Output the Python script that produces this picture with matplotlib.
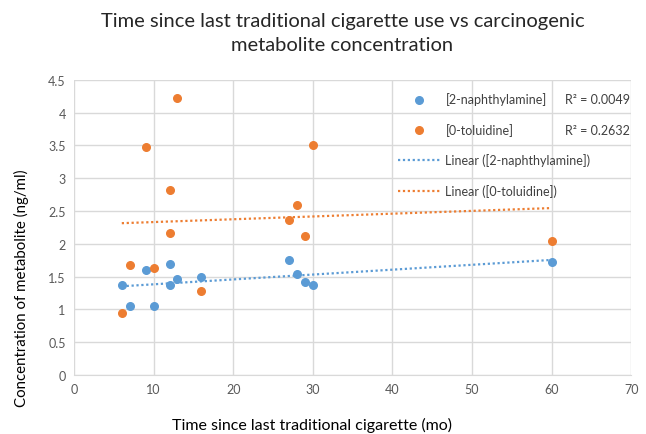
import numpy as np
import matplotlib.pyplot as plt

plt.rcParams['font.family'] = ['Lato', 'DejaVu Sans']

months = [6, 7, 9, 10, 12, 12, 13, 16, 27, 28, 29, 30, 60]
naph = [1.38, 1.05, 1.60, 1.05, 1.37, 1.70, 1.47, 1.50, 1.75, 1.54, 1.42, 1.38, 1.73]
months_t = [6, 7, 9, 10, 12, 12, 13, 16, 27, 28, 29, 30, 60]
tolu = [0.95, 1.68, 3.48, 1.63, 2.82, 2.17, 4.23, 1.28, 2.36, 2.60, 2.12, 3.50, 2.05]
r2_labels = ['R² = 0.0049', 'R² = 0.2632']

blue = '#5b9bd5'
orange = '#ed7d31'

fig = plt.figure(figsize=(6.46, 4.35), dpi=100)
ax = fig.add_axes([0.1146, 0.1356, 0.977 - 0.1146, 0.814 - 0.1356])

ax.scatter(months, naph, s=30, color=blue, label='[2-naphthylamine]', zorder=3)
ax.scatter(months_t, tolu, s=30, color=orange, label='[0-toluidine]', zorder=3)

# linear trend lines
xs = np.array([min(months), max(months)])
b = np.polyfit(months, naph, 1)
ax.plot(xs, np.polyval(b, xs), ls=(0, (1, 1.2)), lw=1.6, color=blue,
        label='Linear ([2-naphthylamine])', zorder=2)
b2 = np.polyfit(months_t, tolu, 1)
ax.plot(xs, np.polyval(b2, xs), ls=(0, (1, 1.2)), lw=1.6, color=orange,
        label='Linear ([0-toluidine])', zorder=2)

ax.set_xlim(0, 70)
ax.set_ylim(0, 4.5)
ax.set_xticks(range(0, 71, 10))
ax.set_yticks(np.arange(0, 4.51, 0.5))
ax.set_yticklabels(['0', '0.5', '1', '1.5', '2', '2.5', '3', '3.5', '4', '4.5'])
ax.grid(True, color='#d9d9d9', lw=1)
ax.set_axisbelow(True)
for s in ax.spines.values():
    s.set_visible(False)
ax.spines['bottom'].set_visible(True)
ax.spines['bottom'].set_color('#d9d9d9')
ax.tick_params(length=0, labelsize=9, labelcolor='#595959', pad=6)

fig.text(0.483, 0.023, 'Time since last traditional cigarette (mo)', fontsize=11.5,
         ha='center', va='center')
fig.text(0.034, 0.338, 'Concentration of metabolite (ng/ml)', fontsize=10.8,
         rotation=90, ha='center', va='center')
fig.text(0.53, 0.923, 'Time since last traditional cigarette use vs carcinogenic\nmetabolite concentration',
         fontsize=14.5, ha='center', va='center', linespacing=1.45, color='#262626')

leg = ax.legend(loc='upper left', bbox_to_anchor=(0.616, 0.786), bbox_transform=fig.transFigure,
                frameon=False, fontsize=9, labelspacing=1.42, handlelength=3.4,
                handletextpad=0.4, borderpad=0, borderaxespad=0)
for t in leg.get_texts():
    t.set_color('#404040')
ax.text(0.998, 0.936, r2_labels[0], transform=ax.transAxes, ha='right', va='center',
        fontsize=9, color='#404040')
ax.text(0.998, 0.831, r2_labels[1], transform=ax.transAxes, ha='right', va='center',
        fontsize=9, color='#404040')

fig.savefig('out.png', dpi=100)
